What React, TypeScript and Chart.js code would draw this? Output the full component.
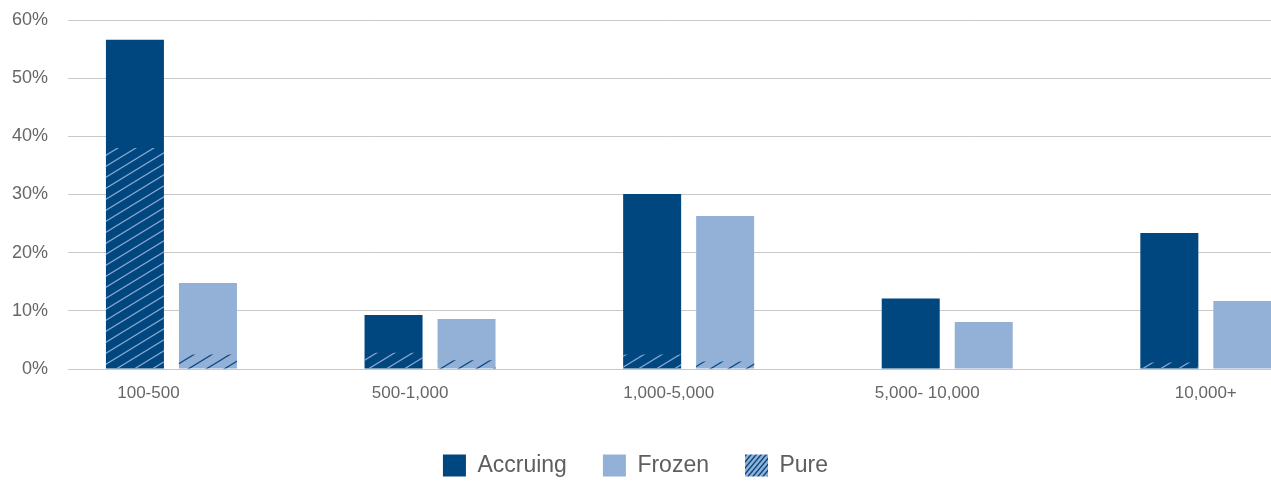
import React, { useEffect, useRef } from 'react';
import { Chart, registerables } from 'chart.js';

Chart.register(...registerables);

// ---- data ----
const categories = ['100-500', '500-1,000', '1,000-5,000', '5,000- 10,000', '10,000+'];
const accruing = [56.6, 9.3, 30.1, 12.1, 23.4];
const frozen = [14.8, 8.6, 26.3, 8.1, 11.7];
const pureAccruing = [38.0, 2.8, 2.5, 0, 1.1];
const pureFrozen = [2.5, 1.5, 1.3, 0, 0];
const yTicks = [0, 10, 20, 30, 40, 50, 60];
const legendNames = ['Accruing', 'Frozen', 'Pure'];

// ---- style ----
const NAVY = '#00467f';
const LIGHT = '#93b1d6';
const FONT = '"Liberation Sans", Arial, Helvetica, sans-serif';
const labelNudge = [-0.089, -0.077, -0.077, -0.077, 0];

function makeHatch(lineColor: string, bg: string | null, w: number, h: number, lw: number) {
  const c = document.createElement('canvas');
  c.width = w;
  c.height = h;
  const ctx = c.getContext('2d')!;
  if (bg) {
    ctx.fillStyle = bg;
    ctx.fillRect(0, 0, w, h);
  }
  ctx.strokeStyle = lineColor;
  ctx.lineWidth = lw;
  for (const dy of [-h, 0, h]) {
    ctx.beginPath();
    ctx.moveTo(-w, 2 * h + dy);
    ctx.lineTo(2 * w, -h + dy);
    ctx.stroke();
  }
  return ctx.createPattern(c, 'repeat')!;
}

export default function App() {
  const ref = useRef<HTMLCanvasElement>(null);

  useEffect(() => {
    if (!ref.current) return;
    const hatchOnNavy = makeHatch('#86a6d0', null, 18, 11, 1.3);
    const hatchOnLight = makeHatch('#0c4a86', null, 18, 11, 1.3);
    const legendHatch = makeHatch(NAVY, LIGHT, 5, 6, 1.4);

    const chart = new Chart(ref.current, {
      type: 'bar',
      data: {
        datasets: [
          { label: legendNames[0], data: accruing.map((y, i) => ({ x: i, y })), backgroundColor: NAVY, stack: 'a', order: 1 },
          { label: legendNames[1], data: frozen.map((y, i) => ({ x: i, y })), backgroundColor: LIGHT, stack: 'f', order: 1 },
          { label: legendNames[2], data: pureAccruing.map((y, i) => ({ x: i, y })), backgroundColor: hatchOnNavy, stack: 'a', order: 0 },
          { label: legendNames[2] + ' (frozen)', data: pureFrozen.map((y, i) => ({ x: i, y })), backgroundColor: hatchOnLight, stack: 'f', order: 0 },
        ] as any,
      },
      options: {
        animation: false,
        responsive: true,
        maintainAspectRatio: false,
        categoryPercentage: 0.5646,
        barPercentage: 0.7945,
        layout: { padding: { top: 20, right: 0, bottom: -6, left: 0 } },
        plugins: {
          tooltip: { enabled: false },
          legend: {
            position: 'bottom',
            labels: {
              font: { family: FONT, size: 23 },
              color: '#5e5e5e',
              boxWidth: 23,
              boxHeight: 22,
              padding: 36,
              generateLabels: (ch: any) => {
                const items = Chart.defaults.plugins.legend.labels
                  .generateLabels(ch)
                  .filter((it: any) => it.datasetIndex !== 3)
                  .sort((a: any, b: any) => a.datasetIndex - b.datasetIndex);
                items.forEach((it: any) => {
                  it.lineWidth = 0;
                  it.strokeStyle = 'transparent';
                  if (it.datasetIndex === 2) it.fillStyle = legendHatch;
                });
                return items;
              },
            },
          },
        },
        scales: {
          x: {
            type: 'linear',
            min: -0.4,
            max: 4.252,
            offset: false,
            grid: { display: false, drawTicks: false, offset: false },
            border: { display: false },
            afterBuildTicks: (s: any) => {
              s.ticks = categories.map((_, i) => ({ value: i + labelNudge[i] }));
            },
            afterFit: (s: any) => {
              s.height = 49;
              s.paddingLeft = 0;
              s.paddingRight = 0;
            },
            ticks: {
              autoSkip: false,
              maxRotation: 0,
              padding: 14,
              color: '#666666',
              font: { family: FONT, size: 17 },
              callback: (v: any) => categories[Math.round(Number(v))] ?? '',
            },
          },
          y: {
            min: 0,
            max: 60,
            stacked: false,
            afterBuildTicks: (s: any) => {
              s.ticks = yTicks.map((v) => ({ value: v }));
            },
            afterFit: (s: any) => {
              s.width = 68;
              s.paddingTop = 0;
              s.paddingBottom = 0;
            },
            grid: { color: '#c8c8c8', lineWidth: 1, drawTicks: false },
            border: { display: false },
            ticks: {
              padding: 20,
              color: '#666666',
              font: { family: FONT, size: 18 },
              callback: (v: any) => v + '%',
            },
          },
        },
      } as any,
    });
    return () => chart.destroy();
  }, []);

  return (
    <div style={{ position: 'absolute', left: 0, top: 0, width: 1271, height: 481 }}>
      <canvas ref={ref} />
    </div>
  );
}
